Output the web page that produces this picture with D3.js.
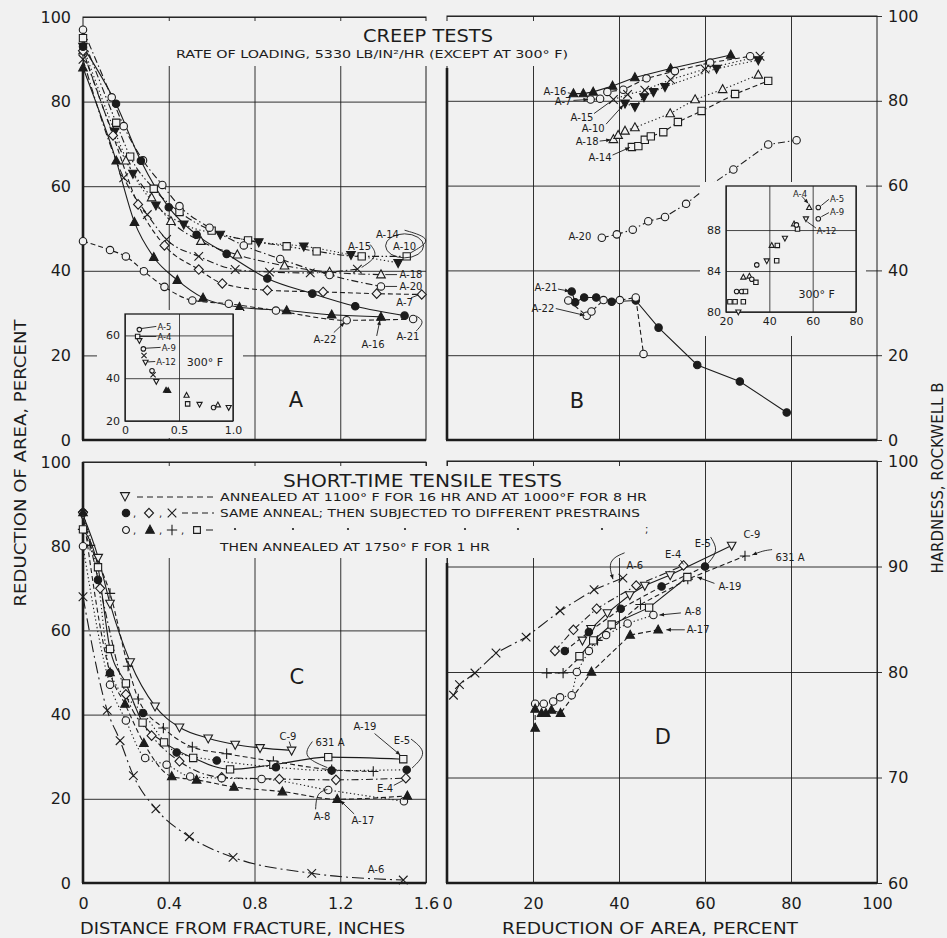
<!DOCTYPE html>
<html><head><meta charset="utf-8">
<script src="https://cdn.jsdelivr.net/npm/d3@7"></script>
<style>body{margin:0;background:#f1f1f1}svg{display:block}</style>
</head><body><svg id="chart" width="947" height="938"></svg>
<script>
// ---------------- DATA ----------------
const TICKS_RA = [0,20,40,60,80,100];
const TICKS_IN = [0,0.4,0.8,1.2,1.6];
const TICKS_PCT = [0,20,40,60,80,100];
const TICKS_HD = [60,70,80,90,100];
const INSET_A_XT = [0,0.5,1.0];
const INSET_A_YT = [20,40,60];
const INSET_B_XT = [20,40,60,80];
const INSET_B_YT = [80,84,88];

// Panel A: creep tests, reduction of area vs distance from fracture (in.)
const A_A14 = [[0,95],[0.155,75],[0.22,67],[0.33,59.4],[0.45,53.9],[0.6,49.5],[0.77,47.2],[0.95,45.8],[1.09,44.6],[1.3,43.4],[1.51,43.4]];
const A_A10 = [[0,93],[0.148,73],[0.233,63],[0.34,55.5],[0.47,51],[0.64,48.6],[0.82,46.8],[1.03,45.8],[1.25,43.8],[1.47,41.9]];
const A_A15 = [[0,90],[0.19,62],[0.3,53.3],[0.39,47.4],[0.54,43.4],[0.71,40.3],[0.87,39.7],[1.06,39.5],[1.28,40.4]];
const A_A18 = [[0,92],[0.2,66],[0.32,57.3],[0.41,51.7],[0.55,47],[0.72,43.8],[0.94,41.2],[1.15,39.7],[1.39,39.1]];
const A_A20 = [[0,97],[0.134,81],[0.19,74.2],[0.28,66.1],[0.37,60.3],[0.45,55.3],[0.59,50.2],[0.75,46],[0.92,42.8],[1.15,39],[1.39,36.3]];
const A_A7  = [[0,92],[0.14,72],[0.257,55.7],[0.38,46],[0.54,40.3],[0.65,37],[0.86,35.4],[1.12,35],[1.37,34.6],[1.58,34.4]];
const A_A21 = [[0,93],[0.154,79.5],[0.27,66],[0.4,55],[0.53,48.5],[0.67,44],[0.86,38.2],[1.07,34.6],[1.27,31.6],[1.5,29.4]];
const A_A16 = [[0,88],[0.155,66],[0.24,51.5],[0.33,43.2],[0.44,37.8],[0.56,33.6],[0.73,31.4],[0.95,30.6],[1.16,29.6],[1.39,29.1]];
const A_A22 = [[0,47],[0.126,44.9],[0.2,43.4],[0.284,39.9],[0.38,36.2],[0.51,33],[0.68,32.2],[0.9,30.6],[1.23,28.3],[1.54,28.6]];
// Inset A (300 F): [distance, RA, marker]
const INSET_A = [[0.133,62.7,'o'],[0.117,59.5,'s'],[0.133,57.6,'W'],[0.17,53.7,'o'],[0.176,50.6,'x'],[0.19,47.5,'W'],[0.25,43.5,'o'],[0.26,41.6,'x'],[0.29,38.5,'W'],[0.38,34.4,'t'],[0.40,34.2,'t'],[0.57,32,'T'],[0.58,28,'s'],[0.69,27.8,'W'],[0.82,26.3,'o'],[0.86,27.5,'T'],[0.96,26.3,'W']];

// Panel B: creep tests, hardness vs reduction of area
const B_A16 = [[29.4,81.7],[31.7,81.7],[34,82.1],[38.5,83.5],[43.7,85.5],[52,87.6],[66,90.8]];
const B_A7  = [[33.4,80.3],[35.6,80.5],[37.3,82.1],[41,82.6],[46.4,85.3],[53,87],[61.2,89],[70.5,90.5]];
const B_A15 = [[38.7,80.3],[42,81.5],[46,82.5],[52,85],[60,87.5],[72.8,90.5]];
const B_A10 = [[41.4,79.4],[43.7,78.6],[45.8,80.9],[48,82.1],[50.7,83.3],[62.7,87.6],[72.4,89.6]];
const B_A18 = [[38.7,70.9],[39.8,71.9],[41.4,72.9],[43.7,73.7],[51.9,77],[57.7,80.3],[64.1,82.7],[72.4,86.1]];
const B_A14 = [[43,69.1],[44.5,69.3],[46,70.8],[47.4,71.6],[50.3,72.6],[53.7,75],[59.2,77.6],[67,81.6],[74.7,84.7]];
const B_A20 = [[36,47.7],[39.5,48.5],[43.2,49.6],[46.8,51.6],[50.7,52.6],[55.6,55.7],[60.5,59.6],[66.6,63.8],[74.7,69.7],[81.3,70.7]];
const B_A21 = [[29,35],[29.8,32.5],[31.9,33.6],[34.7,33.6],[38.3,32.6],[43.9,32.9],[49.2,26.5],[58.2,17.7],[68.1,13.8],[79,6.5]];
const B_A22 = [[28.2,32.9],[32.5,29.3],[33.6,30.3],[36.4,33],[40.2,33],[43.9,33.6],[45.7,20.3]];
// Inset B (300 F): [RA, hardness, marker]
const INSET_B = [[58.4,90.2,'T'],[62.6,90.2,'o'],[56.9,89.1,'W'],[62.6,89.1,'o'],[53,88.1,'s'],[51.4,88.6,'T'],[52.5,88.5,'o'],[47.2,87.2,'W'],[41.1,86.5,'T'],[43.7,86.5,'s'],[38.8,85,'W'],[43.4,85,'s'],[34.2,84.6,'o'],[28,83.4,'T'],[30.8,83.5,'T'],[31.9,83.2,'o'],[33.8,82.9,'s'],[24.9,82,'o'],[27.2,82,'o'],[29,82,'s'],[21.8,81,'s'],[24.2,81,'s'],[28,81,'s'],[25.7,80,'W']];

// Panel C: short-time tensile, RA vs distance
const C_C9   = [[0,87.4],[0.071,77.3],[0.126,66.4],[0.22,52.5],[0.336,42],[0.45,37],[0.584,34.4],[0.71,32.9],[0.826,32.1],[0.973,31.5]];
const C_631A = [[0,84],[0.033,80.2],[0.126,68.8],[0.21,51.5],[0.258,43.7],[0.375,36.8],[0.51,32.3],[0.67,30.7],[0.888,28.9],[1.16,26.9],[1.354,26.5]];
const C_A19  = [[0,84],[0.07,75],[0.126,55.6],[0.2,47.4],[0.278,38.1],[0.378,33.4],[0.514,29.7],[0.686,27],[0.888,28.1],[1.144,29.9],[1.494,29.4]];
const C_E5   = [[0,88],[0.07,72],[0.126,49.9],[0.28,40.4],[0.437,31],[0.624,29.1],[0.9,27.5],[1.16,26.7],[1.51,26.9]];
const C_E4   = [[0,88],[0.08,70],[0.2,44.8],[0.32,35],[0.45,28.9],[0.647,25.1],[0.916,24.7],[1.18,24.5],[1.506,24.9]];
const C_A8   = [[0,80],[0.126,47.1],[0.2,38.6],[0.29,29.7],[0.39,28.1],[0.5,25.3],[0.647,24.9],[0.833,24.7],[1.144,22.1],[1.497,19.4]];
const C_A17  = [[0,88],[0.126,50],[0.196,42.5],[0.284,33.2],[0.414,25.3],[0.53,24.5],[0.704,22.8],[0.93,21.7],[1.186,19.9],[1.513,20.7]];
const C_A6   = [[0,68],[0.113,41],[0.173,33.8],[0.235,25.5],[0.34,17.6],[0.496,11],[0.70,6.1],[1.067,2.3],[1.494,0.7]];

// Panel D: short-time tensile, hardness vs RA
const D_A6   = [[1.5,77.8],[2.9,78.8],[6.5,79.9],[11.4,81.8],[18.4,83.3],[26.3,85.8],[34.2,87.8],[40.9,88.9]];
const D_C9   = [[31.5,83],[33.5,84.1],[37.3,85.6],[42.5,87.3],[46,88.2],[51.9,89.2],[66.2,92]];
const D_E5   = [[27.4,82],[33,83.8],[40.4,86],[49.9,88.1],[60,90]];
const D_E4   = [[25.1,82],[29.4,84],[34.8,86],[44,88.2],[55,90.1]];
const D_631A = [[23.2,79.9],[27,79.9],[35,83],[45,86.4],[56,88.8],[69.3,91]];
const D_A19  = [[30.8,81.5],[34,83],[38.3,84.5],[47,86.1],[55.9,89]];
const D_A8   = [[20.5,77],[22.5,77],[24.7,77.2],[26.3,77.6],[29,77.8],[30.2,80],[33,82],[37,83.5],[42,84.6],[48,85.4]];
const D_A17  = [[20.5,74.7],[20.5,76.5],[22,76.1],[23,76.1],[24.3,76.4],[26.4,76.1],[33.6,80],[42.6,83.5],[49.1,84]];

// ---------------- STYLE ----------------
const BG = '#f1f1f1', INK = '#1c1c1c', FONT = "'DejaVu Sans', sans-serif";
const DASH = {solid:null, dash:'5,3', dot:'1.3,2.6', dashdot:'7,3,1.5,3', dashdotdot:'7,2.5,1.5,2.5,1.5,2.5', longdashdot:'12,4,2,4'};

const svg = d3.select('#chart');
svg.append('rect').attr('width',947).attr('height',938).attr('fill',BG);

// scales
const xA = d3.scaleLinear().domain([0,1.6]).range([83,426]);
const yA = d3.scaleLinear().domain([0,100]).range([440,17]);
const xB = d3.scaleLinear().domain([0,100]).range([447,877]);
const yB = d3.scaleLinear().domain([0,100]).range([440,16]);
const xC = d3.scaleLinear().domain([0,1.6]).range([83,426]);
const yC = d3.scaleLinear().domain([0,100]).range([883,462]);
const xD = d3.scaleLinear().domain([0,100]).range([447,877]);
const yD = d3.scaleLinear().domain([60,100]).range([883,461]);
const xIA = d3.scaleLinear().domain([0,1.0]).range([125,233]);
const yIA = d3.scaleLinear().domain([20,70]).range([421,314]);
const xIB = d3.scaleLinear().domain([20,80]).range([726,856]);
const yIB = d3.scaleLinear().domain([80,92.3]).range([312,186]);
const P = {A:[xA,yA,d3.curveMonotoneX], B:[xB,yB,d3.curveLinear], C:[xC,yC,d3.curveMonotoneX], D:[xD,yD,d3.curveLinear]};
const fmtIn = v => v===0 ? '0' : v.toFixed(1);

function axisG(ax, tx, ty, fs, sw) {
  const g = svg.append('g').attr('transform',`translate(${tx},${ty})`).call(ax);
  g.select('.domain').remove();
  g.selectAll('line').attr('stroke',INK).attr('stroke-width',sw||0.9);
  g.selectAll('text').attr('font-size',fs||16).attr('font-family',FONT).attr('fill',INK);
  return g;
}
// grids and tick labels
axisG(d3.axisLeft(yA).tickValues(TICKS_RA).tickSize(-343).tickPadding(12), 83, 0);
axisG(d3.axisBottom(xA).tickValues(TICKS_IN.slice(1,-1)).tickSize(-423).tickFormat(''), 0, 440);
axisG(d3.axisLeft(yB).tickValues(TICKS_RA).tickSize(-430).tickFormat(''), 447, 0);
axisG(d3.axisRight(yB).tickValues(TICKS_RA).tickSize(5).tickPadding(6), 877, 0);
axisG(d3.axisBottom(xB).tickValues([20,40,60,80]).tickSize(-424).tickFormat(''), 0, 440);
axisG(d3.axisLeft(yC).tickValues(TICKS_RA).tickSize(-343).tickPadding(12), 83, 0);
axisG(d3.axisBottom(xC).tickValues(TICKS_IN).tickSize(-421).tickPadding(15).tickFormat(fmtIn), 0, 883);
axisG(d3.axisLeft(yD).tickValues(TICKS_HD).tickSize(-430).tickFormat(''), 447, 0);
axisG(d3.axisRight(yD).tickValues(TICKS_HD).tickSize(5).tickPadding(6), 877, 0);
axisG(d3.axisBottom(xD).tickValues(TICKS_PCT).tickSize(-422).tickPadding(15), 0, 883);

// thin borders
[[xA,yA],[xB,yB],[xC,yC],[xD,yD]].forEach(([x,y])=>{
  const [x0,x1]=x.range(), [y0,y1]=y.range();
  svg.append('rect').attr('x',x0).attr('y',y1).attr('width',x1-x0).attr('height',y0-y1)
    .attr('fill','none').attr('stroke',INK).attr('stroke-width',1);
});
// masks behind titles / legend
svg.append('rect').attr('x',88).attr('y',21).attr('width',487).attr('height',45).attr('fill',BG);
svg.append('rect').attr('x',88).attr('y',466).attr('width',572).attr('height',92).attr('fill',BG);

// thick axes
function thick(x1,y1,x2,y2){ svg.append('line').attr('x1',x1).attr('y1',y1).attr('x2',x2).attr('y2',y2).attr('stroke',INK).attr('stroke-width',2.6); }
thick(xA(0),68,xA(0),yA(0)); thick(xA(0)-1,yA(0),xA(1.6),yA(0));
thick(xB(0),68,xB(0),yB(0)); thick(xB(0)-1,yB(0),xB(100),yB(0));
thick(xC(0),yC(100),xC(0),yC(0)); thick(xC(0)-1,yC(0),xC(1.6),yC(0));
thick(xD(0),563,xD(0),yD(60)); thick(xD(0)-1,yD(60),xD(100),yD(60));

// text helper
function txt(s, x, y, o={}) {
  const t = svg.append('text').attr('x',x).attr('y',y).text(s)
    .attr('font-family',FONT).attr('font-size',o.fs||10).attr('fill',INK)
    .attr('text-anchor',o.anchor||'start');
  if (o.len) t.attr('textLength',o.len).attr('lengthAdjust','spacingAndGlyphs');
  if (o.rot) t.attr('transform',`rotate(${o.rot},${x},${y})`);
  return t;
}
// titles
txt('CREEP TESTS', 363, 42, {fs:17, len:130});
txt('RATE OF LOADING, 5330 LB/IN²/HR (EXCEPT AT 300° F)', 176, 57.5, {fs:10, len:392});
txt('SHORT-TIME TENSILE TESTS', 283, 487, {fs:17, len:279});
txt('DISTANCE FROM FRACTURE, INCHES', 80, 934, {fs:15, len:325});
txt('REDUCTION OF AREA, PERCENT', 502, 934, {fs:15, len:296});
txt('REDUCTION OF AREA, PERCENT', 26, 463, {fs:15, len:287, anchor:'middle', rot:-90});
txt('HARDNESS, ROCKWELL B', 943, 478, {fs:15, len:191, anchor:'middle', rot:-90});

// markers
function mk(g, t, x, y, s) {
  let d, fill = BG;
  const k = s;
  switch (t) {
    case 'o': d = d3.symbol(d3.symbolCircle, Math.PI*k*k*0.75)(); break;
    case 'c': d = d3.symbol(d3.symbolCircle, Math.PI*k*k*0.75)(); fill = INK; break;
    case 't': d = `M0,${-k*1.1}L${k},${k*0.75}L${-k},${k*0.75}Z`; fill = INK; break;
    case 'T': d = `M0,${-k*1.1}L${k},${k*0.75}L${-k},${k*0.75}Z`; break;
    case 'w': d = `M0,${k*1.1}L${k},${-k*0.75}L${-k},${-k*0.75}Z`; fill = INK; break;
    case 'W': d = `M0,${k*1.1}L${k},${-k*0.75}L${-k},${-k*0.75}Z`; break;
    case 's': d = `M${-k*0.85},${-k*0.85}h${1.7*k}v${1.7*k}h${-1.7*k}Z`; break;
    case 'd': d = `M0,${-k*1.1}L${k*1.05},0L0,${k*1.1}L${-k*1.05},0Z`; break;
    case 'x': d = `M${-k},${-k}L${k},${k}M${k},${-k}L${-k},${k}`; fill = 'none'; break;
    case '+': d = `M0,${-k*1.2}V${k*1.2}M${-k*1.2},0H${k*1.2}`; fill = 'none'; break;
  }
  g.append('path').attr('d',d).attr('transform',`translate(${x},${y})`)
    .attr('fill',fill).attr('stroke',INK).attr('stroke-width',1.1);
}

// series table (style separate from data)
const SERIES = [
  {p:'A', d:A_A14, m:'s', ls:'dashdotdot'}, {p:'A', d:A_A10, m:'w', ls:'dot'},
  {p:'A', d:A_A15, m:'x', ls:'dashdot'},    {p:'A', d:A_A18, m:'T', ls:'dashdot'},
  {p:'A', d:A_A20, m:'o', ls:'dashdot'},    {p:'A', d:A_A7,  m:'d', ls:'dash'},
  {p:'A', d:A_A21, m:'c', ls:'solid'},      {p:'A', d:A_A16, m:'t', ls:'solid'},
  {p:'A', d:A_A22, m:'o', ls:'dash'},
  {p:'B', d:B_A16, m:'t', ls:'solid'}, {p:'B', d:B_A7, m:'o', ls:'dash'},
  {p:'B', d:B_A15, m:'x', ls:'dot'},   {p:'B', d:B_A10, m:'w', ls:'dot'},
  {p:'B', d:B_A18, m:'T', ls:'dot'},   {p:'B', d:B_A14, m:'s', ls:'dash'},
  {p:'B', d:B_A20, m:'o', ls:'dashdot'}, {p:'B', d:B_A21, m:'c', ls:'solid'},
  {p:'B', d:B_A22, m:'o', ls:'dash'},
  {p:'C', d:C_C9, m:'W', ls:'solid'},  {p:'C', d:C_631A, m:'+', ls:'dash'},
  {p:'C', d:C_A19, m:'s', ls:'solid'}, {p:'C', d:C_E5, m:'c', ls:'dot'},
  {p:'C', d:C_E4, m:'d', ls:'dashdot'}, {p:'C', d:C_A8, m:'o', ls:'dot'},
  {p:'C', d:C_A17, m:'t', ls:'dash'},  {p:'C', d:C_A6, m:'x', ls:'longdashdot'},
  {p:'D', d:D_A6, m:'x', ls:'longdashdot'}, {p:'D', d:D_C9, m:'W', ls:'solid'},
  {p:'D', d:D_E5, m:'c', ls:'dash'},   {p:'D', d:D_E4, m:'d', ls:'dashdot'},
  {p:'D', d:D_631A, m:'+', ls:'dash'}, {p:'D', d:D_A19, m:'s', ls:'solid'},
  {p:'D', d:D_A8, m:'o', ls:'dot'},    {p:'D', d:D_A17, m:'t', ls:'dash'}
];
const gl = svg.append('g'), gm = svg.append('g');
SERIES.forEach(s => {
  const [x,y,cv] = P[s.p];
  gl.append('path').attr('d', d3.line().x(d=>x(d[0])).y(d=>y(d[1])).curve(cv)(s.d))
    .attr('fill','none').attr('stroke',INK).attr('stroke-width',1.1)
    .attr('stroke-dasharray',DASH[s.ls]);
  s.d.forEach(d => mk(gm, s.m, x(d[0]), y(d[1]), 4.3));
});

// ---------- insets ----------
function inset(x, y, xt, yt, fmt, pts, pad) {
  const [x0,x1]=x.range(), [y0,y1]=y.range();
  svg.append('rect').attr('x',x0-pad[0]).attr('y',y1-pad[1]).attr('width',x1-x0+pad[0]+pad[2]).attr('height',y0-y1+pad[1]+pad[3]).attr('fill',BG);
  axisG(d3.axisLeft(y).tickValues(yt).tickSize(-(x1-x0)).tickPadding(5), x0, 0, 11, 0.8);
  axisG(d3.axisBottom(x).tickValues(xt).tickSize(-(y0-y1)).tickPadding(5).tickFormat(fmt), 0, y0, 11, 0.8);
  svg.append('rect').attr('x',x0).attr('y',y1).attr('width',x1-x0).attr('height',y0-y1).attr('fill','none').attr('stroke',INK).attr('stroke-width',1.3);
  const g = svg.append('g');
  pts.forEach(p => mk(g, p[2], x(p[0]), y(p[1]), 2.6));
}
inset(xIA, yIA, INSET_A_XT, INSET_A_YT, v=>v===0?'0':v.toFixed(1), INSET_A, [28,4,10,17]);
inset(xIB, yIB, INSET_B_XT, INSET_B_YT, d3.format('d'), INSET_B, [26,4,10,24]);

// ---------- annotations ----------
function lead(x, y, pts, arrow) {
  svg.append('path').attr('d', d3.line().x(d=>x(d[0])).y(d=>y(d[1])).curve(d3.curveBasis)(pts))
    .attr('fill','none').attr('stroke',INK).attr('stroke-width',0.9);
  if (arrow) {
    const a = pts[pts.length-1], b = pts[pts.length-2];
    const ax = x(a[0]), ay = y(a[1]), bx = x(b[0]), by = y(b[1]);
    const ang = Math.atan2(ay-by, ax-bx), L = 5, w = 0.4;
    svg.append('path').attr('d',`M${ax},${ay}L${ax-L*Math.cos(ang-w)},${ay-L*Math.sin(ang-w)}L${ax-L*Math.cos(ang+w)},${ay-L*Math.sin(ang+w)}Z`).attr('fill',INK);
  }
}
function lab(x, y, s, lx, ly, pts, o={}) {
  txt(s, x(lx), y(ly)+3.5, {fs:o.fs||10, anchor:o.anchor||'middle'});
  if (pts) lead(x, y, pts, o.arrow);
}
// panel A labels
lab(xA,yA,'A-14',1.42,48.6,[[1.5,49.6],[1.64,47.5],[1.53,44.3]]);
lab(xA,yA,'A-15',1.29,45.7,[[1.34,46.2],[1.38,43.5],[1.30,40.8]]);
lab(xA,yA,'A-10',1.50,45.7,null);
svg.append('ellipse').attr('cx',xA(1.50)).attr('cy',yA(45.9)).attr('rx',19).attr('ry',12).attr('fill','none').attr('stroke',INK).attr('stroke-width',0.9);
lab(xA,yA,'A-18',1.53,39.1,[[1.465,39.1],[1.41,39.1]]);
lab(xA,yA,'A-20',1.53,36.3,[[1.465,36.3],[1.41,36.3]]);
lab(xA,yA,'A-7',1.50,32.4,[[1.53,33.6],[1.565,34.3]]);
lab(xA,yA,'A-22',1.129,23.7,[[1.17,25.4],[1.22,27.8]],{arrow:true});
lab(xA,yA,'A-16',1.353,22.5,[[1.37,24.6],[1.385,28.3]],{arrow:true});
lab(xA,yA,'A-21',1.516,24.4,[[1.555,25.8],[1.595,28],[1.555,29.3]]);
txt('A', xA(0.993), yA(9.5)+7, {fs:21, anchor:'middle'});
// inset A labels
lab(xIA,yIA,'A-5',0.30,64.3,[[0.15,63.2],[0.29,64.2]],{anchor:'start',fs:8.5});
lab(xIA,yIA,'A-4',0.30,59.5,[[0.135,59.5],[0.29,59.5]],{anchor:'start',fs:8.5});
lab(xIA,yIA,'A-9',0.34,54.4,[[0.19,54],[0.33,54.4]],{anchor:'start',fs:8.5});
lab(xIA,yIA,'A-12',0.29,47.8,[[0.21,47.6],[0.28,47.8]],{anchor:'start',fs:8.5});
txt('300° F', xIA(0.74), yIA(47.4)+4, {fs:11, anchor:'middle'});
// panel B labels
lab(xB,yB,'A-16',25.1,82.3,[[28.1,81.9],[28.9,81.7]]);
lab(xB,yB,'A-7',27,79.9,[[29.4,80.1],[32.8,80.3]],{arrow:true});
lab(xB,yB,'A-15',31.4,76.1,[[34.2,77],[38.3,80]]);
lab(xB,yB,'A-10',34,73.5,[[37,74.5],[41,79]],{arrow:true});
lab(xB,yB,'A-18',32.6,70.4,[[35.5,70.5],[38.1,70.8]],{arrow:true});
lab(xB,yB,'A-14',35.6,66.7,[[38.5,67.2],[42.5,69]],{arrow:true});
lab(xB,yB,'A-20',30.9,48,null);
lab(xB,yB,'A-21',23,35.9,[[25.8,35.6],[28.5,35.1]],{arrow:true});
lab(xB,yB,'A-22',22.3,31,[[25.3,31],[32,29.4]],{arrow:true});
txt('B', xB(30.2), yB(9.2)+7, {fs:21, anchor:'middle'});
// inset B labels
lab(xIB,yIB,'A-4',50.9,91.6,[[55,91.3],[58,90.6]],{anchor:'start',fs:8.5,arrow:true});
lab(xIB,yIB,'A-5',68,91.1,[[64,90.4],[67.5,91]],{anchor:'start',fs:8.5});
lab(xIB,yIB,'A-9',68,89.8,[[64,89.3],[67.5,89.7]],{anchor:'start',fs:8.5});
lab(xIB,yIB,'A-12',61.9,88.0,[[57.5,88.8],[61.5,88.2]],{anchor:'start',fs:8.5});
txt('300° F', xIB(61.9), yIB(81.4), {fs:11, anchor:'middle'});
// panel C labels
lab(xC,yC,'C-9',0.956,34.8,[[0.962,33.6],[0.97,32.4]]);
lab(xC,yC,'631 A',1.152,33.3,[[1.07,33.6],[1.02,30],[1.14,27.4]]);
lab(xC,yC,'A-19',1.315,37.1,[[1.36,35.5],[1.48,30.4]],{arrow:true});
lab(xC,yC,'E-5',1.488,33.8,[[1.53,34.2],[1.61,31],[1.535,27.3]]);
lab(xC,yC,'E-4',1.409,22.4,[[1.45,23.2],[1.495,24.4]]);
lab(xC,yC,'A-8',1.115,15.7,[[1.085,17.5],[1.09,21.5],[1.14,22.2]]);
lab(xC,yC,'A-17',1.306,14.8,[[1.265,16.4],[1.2,19.6]],{arrow:true});
lab(xC,yC,'A-6',1.367,3.1,null);
txt('C', xC(0.998), yC(49)+7, {fs:21, anchor:'middle'});
// panel D labels
lab(xD,yD,'A-6',43.7,90.1,[[41.3,91.3],[37.3,90.6],[38.6,88.8]],{arrow:true});
lab(xD,yD,'E-4',52.6,91.1,[[54.3,90.6],[55,90.2]]);
lab(xD,yD,'E-5',59.5,92.2,[[61.3,92.8],[63.2,91.5],[60.7,90.3]]);
lab(xD,yD,'C-9',70.9,93,null);
lab(xD,yD,'631 A',79.8,90.9,[[75.6,91.6],[73.5,91.5],[71,91.1]],{arrow:true});
lab(xD,yD,'A-19',65.8,88.1,[[62.2,88.4],[58.2,89]],{arrow:true});
lab(xD,yD,'A-8',57.2,85.7,[[54.4,85.6],[49.4,85.4]],{arrow:true});
lab(xD,yD,'A-17',58.4,84,[[55.3,84],[51,84]],{arrow:true});
txt('D', xD(50.2), yD(73.8)+7, {fs:21, anchor:'middle'});

// ---------- legend (panel C) ----------
const LEG = svg.append('g');
mk(LEG,'W',125,496,4.5);
LEG.append('line').attr('x1',137).attr('x2',214).attr('y1',497).attr('y2',497).attr('stroke',INK).attr('stroke-dasharray','6,4');
txt('ANNEALED AT 1100° F FOR 16 HR AND AT 1000°F FOR 8 HR', 220, 501, {fs:10, len:427});
mk(LEG,'c',126,513,4.3); txt(',',133,517,{fs:10});
mk(LEG,'d',149,513,4.3); txt(',',159,517,{fs:10});
mk(LEG,'x',172,513,4.3);
LEG.append('line').attr('x1',182).attr('x2',214).attr('y1',513).attr('y2',513).attr('stroke',INK).attr('stroke-dasharray','6,4');
txt('SAME ANNEAL; THEN SUBJECTED TO DIFFERENT PRESTRAINS', 220, 517, {fs:10, len:420});
mk(LEG,'o',126,530,4); txt(',',133,534,{fs:10});
mk(LEG,'t',150,530,4.3); txt(',',159,534,{fs:10});
mk(LEG,'+',172,530,4.3); txt(',',181,534,{fs:10});
mk(LEG,'s',197,530,4);
LEG.append('line').attr('x1',206).attr('x2',213).attr('y1',530).attr('y2',530).attr('stroke',INK);
[235,293,348,405,465,518,602].forEach(x => LEG.append('circle').attr('cx',x).attr('cy',529).attr('r',1.1).attr('fill',INK));
txt(';', 645, 533, {fs:10});
txt('THEN ANNEALED AT 1750° F FOR 1 HR', 220, 551, {fs:10, len:270});
</script></body></html>
